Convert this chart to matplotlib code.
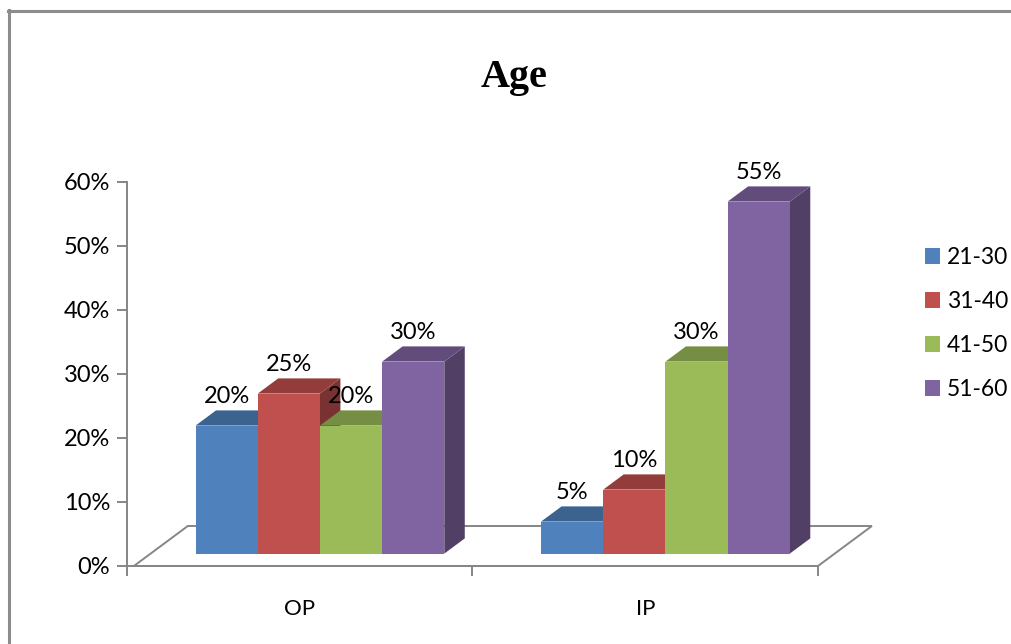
import matplotlib
matplotlib.use("Agg")
import matplotlib.pyplot as plt
from matplotlib.patches import Polygon, Patch
from matplotlib.lines import Line2D
from matplotlib.colors import to_rgb

categories = ["OP", "IP"]
age_groups = ["21-30", "31-40", "41-50", "51-60"]
op_values = [20, 25, 20, 30]
ip_values = [5, 10, 30, 55]
y_ticks = [0, 10, 20, 30, 40, 50, 60]

colors = ["#4F81BD", "#C0504D", "#9BBB59", "#8064A2"]

# fake 3-D: depth vector of the floor in data units, bars sit between d0 and d1
DX, DY = 0.156, 6.25
D0, D1 = 0.31, 0.69
BAR_W = 0.18
GRID = "#868686"


def shade(c, k):
    r, g, b = to_rgb(c)
    return (r * k, g * k, b * k)


fig = plt.figure(figsize=(10.12, 6.44), dpi=100)
W, H = 1012, 644
ax = fig.add_axes([127 / W, (H - 566) / H, 691 / W, 384 / H])
ax.set_xlim(0, 2)
ax.set_ylim(0, 60)

for side in ["top", "right"]:
    ax.spines[side].set_visible(False)
for side in ["left", "bottom"]:
    ax.spines[side].set_color(GRID)
    ax.spines[side].set_linewidth(1.4)

ax.set_yticks(y_ticks)
ax.set_yticklabels([f"{v}%" for v in y_ticks], fontfamily="Lato", fontsize=17)
ax.set_xticks([0, 1, 2])
ax.set_xticklabels([])
ax.set_xticks([0.5, 1.5], minor=True)
ax.set_xticklabels(categories, minor=True, fontfamily="Lato", fontsize=16)
ax.tick_params(axis="both", which="major", length=7, width=1.4, color=GRID)
ax.tick_params(axis="y", pad=5)
ax.tick_params(axis="x", which="minor", length=0, pad=24)

# floor
floor = Polygon([(0.02, 0), (2, 0), (2 + DX, DY), (0.02 + DX, DY)], closed=True,
                facecolor="white", edgecolor=GRID, linewidth=1.4,
                clip_on=False, zorder=1)
ax.add_patch(floor)

series = [op_values, ip_values]
for gi, vals in enumerate(series):
    center = gi + 0.51
    for j, h in enumerate(vals):
        xl = center + (j - 2) * BAR_W + D0 * DX
        xr = xl + BAR_W
        y0 = D0 * DY
        ddx = (D1 - D0) * DX
        ddy = (D1 - D0) * DY
        c = colors[j]
        z = 2 + gi * 10 + j
        side = Polygon([(xr, y0), (xr + ddx, y0 + ddy), (xr + ddx, y0 + h + ddy),
                        (xr, y0 + h)], closed=True, facecolor=shade(c, 0.63),
                       edgecolor="none", clip_on=False, zorder=z)
        top = Polygon([(xl, y0 + h), (xr, y0 + h), (xr + ddx, y0 + h + ddy),
                       (xl + ddx, y0 + h + ddy)], closed=True,
                      facecolor=shade(c, 0.76), edgecolor="none",
                      clip_on=False, zorder=z)
        ax.add_patch(side)
        ax.add_patch(top)
        ax.bar(xl, h, width=BAR_W, bottom=y0, align="edge", color=c,
               linewidth=0, clip_on=False, zorder=z)
        ax.text(xl + BAR_W / 2, y0 + h + 4.5, f"{h}%", ha="center", va="center",
                fontfamily="Lato", fontsize=17, zorder=50)

fig.text(514 / W, 1 - 77 / H, "Age", ha="center", va="center",
         fontfamily="Liberation Serif", fontweight="bold", fontsize=29)

handles = [Patch(facecolor=c, edgecolor="none") for c in colors]
fig.legend(handles, age_groups, loc="upper left",
           bbox_to_anchor=(916 / W, 1 - 238 / H), frameon=False,
           prop={"family": "Lato", "size": 16.5}, handlelength=0.65,
           handleheight=0.65, handletextpad=0.3, labelspacing=1.0,
           borderaxespad=0)

# chart area border (only top and left edges fall inside the image)
fig.add_artist(Line2D([9 / W, 9 / W], [0, 1 - 10 / H], color="#8c8c8c",
                      linewidth=2.2, transform=fig.transFigure))
fig.add_artist(Line2D([8 / W, 1], [1 - 11 / H, 1 - 11 / H], color="#8c8c8c",
                      linewidth=2.2, transform=fig.transFigure))

fig.savefig("out.png", dpi=100)
